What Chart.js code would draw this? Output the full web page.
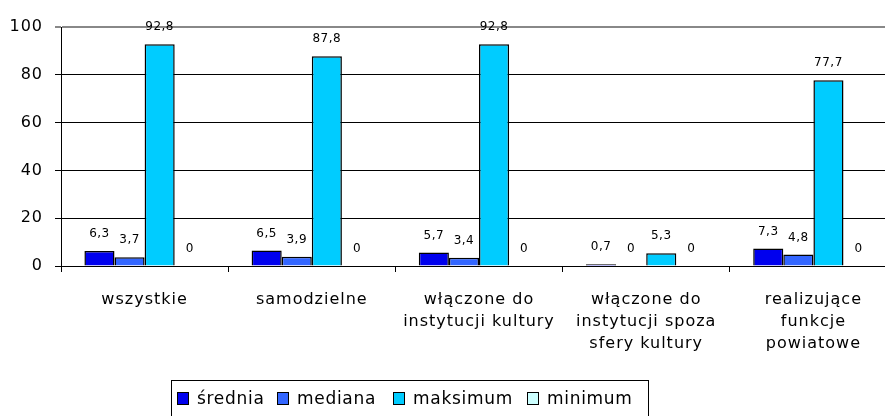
<!DOCTYPE html>
<html lang="pl">
<head>
<meta charset="utf-8">
<script src="https://cdn.jsdelivr.net/npm/chart.js@4/dist/chart.umd.min.js"></script>
<style>
    html, body { margin: 0; padding: 0; background: #fff; overflow: hidden; }
    #wrap { position: relative; width: 885px; height: 416px; overflow: hidden; }
    #legenda {
        position: absolute; left: 171px; top: 380px; width: 478px; height: 44px;
        border: 1px solid #000; box-sizing: border-box;
        font: 17px "DejaVu Sans", sans-serif; letter-spacing: 0.7px; color: #000;
        white-space: nowrap;
    }
    #legenda .box {
        position: absolute; top: 11px; width: 10px; height: 11px; border: 1px solid #000;
    }
    #legenda .txt { position: absolute; top: 7px; line-height: 20px; }
</style>
</head>
<body>
<div id="wrap">
    <canvas id="wykres" width="897" height="416"></canvas>
    <div id="legenda"></div>
</div>
<script>
// ── Dane ───────────────────────────────────────────────────
const kategorie = [
    'wszystkie',
    'samodzielne',
    ['włączone do', 'instytucji kultury'],
    ['włączone do', 'instytucji spoza', 'sfery kultury'],
    ['realizujące', 'funkcje', 'powiatowe'],
];
const srednia   = [6.3, 6.5, 5.7, 0.7, 7.3];
const mediana   = [3.7, 3.9, 3.4, 0, 4.8];
const maksimum  = [92.8, 87.8, 92.8, 5.3, 77.7];
const minimum   = [0, 0, 0, 0, 0];
const yTicks    = [0, 20, 40, 60, 80, 100];

const serie = [
    { label: 'średnia',  data: srednia,  color: '#0000EE' },
    { label: 'mediana',  data: mediana,  color: '#3366FF' },
    { label: 'maksimum', data: maksimum, color: '#00CCFF' },
    { label: 'minimum',  data: minimum,  color: '#CCFFFF' },
];

// lewa krawędź kwadracika każdej pozycji legendy (px od ramki)
const legendaX = [5, 105, 221, 355];

const FONT = '"DejaVu Sans", sans-serif';
const fmt  = v => String(v).replace('.', ',');

// ── Rozstrzelenie liter jak w oryginale ────────────────────
const odstep = {
    id: 'odstep',
    beforeDraw(chart) { chart.ctx.letterSpacing = '1px'; },
};

// ── Etykiety wartości nad słupkami ─────────────────────────
const etykiety = {
    id: 'etykiety',
    afterDatasetsDraw(chart) {
        const ctx = chart.ctx;
        ctx.save();
        ctx.letterSpacing = '0.5px';
        ctx.font = `12px ${FONT}`;
        ctx.fillStyle = '#000';
        ctx.textAlign = 'center';
        ctx.textBaseline = 'middle';
        chart.data.datasets.forEach((ds, i) => {
            chart.getDatasetMeta(i).data.forEach((bar, j) => {
                ctx.fillText(fmt(ds.data[j]), bar.x, bar.y - 17);
            });
        });
        ctx.restore();
    },
};

new Chart(document.getElementById('wykres').getContext('2d'), {
    type: 'bar',
    data: {
        labels: kategorie,
        datasets: serie.map(s => ({
            label: s.label,
            data: s.data,
            backgroundColor: s.color,
            borderColor: '#000',
            borderWidth: 1.5,
            borderSkipped: 'bottom',
            categoryPercentage: 0.72,
            barPercentage: 1,
        })),
    },
    options: {
        responsive: false,
        animation: false,
        layout: { padding: { top: 27, left: 0, right: 0, bottom: 0 } },
        plugins: {
            legend: { display: false },
            tooltip: { enabled: false },
        },
        scales: {
            x: {
                grid: {
                    offset: true, drawOnChartArea: false, drawTicks: true,
                    tickLength: 6, color: '#000',
                },
                border: { color: '#000', width: 1 },
                ticks: {
                    color: '#000', font: { family: FONT, size: 16, lineHeight: 1.38 },
                    maxRotation: 0, autoSkip: false, padding: 17,
                },
                afterFit: s => { s.height = 150; },
            },
            y: {
                min: 0, max: 100,
                afterBuildTicks: s => { s.ticks = yTicks.map(v => ({ value: v })); },
                grid: {
                    color: c => c.tick && c.tick.value === 100 ? '#888' : '#000',
                    lineWidth: c => c.tick && c.tick.value === 100 ? 2 : 1,
                    tickLength: 6,
                },
                border: { color: '#000', width: 1 },
                ticks: { color: '#000', font: { family: FONT, size: 16 }, padding: 12 },
                afterFit: s => { s.width = 61; },
            },
        },
    },
    plugins: [odstep, etykiety],
});

// ── Legenda ────────────────────────────────────────────────
document.getElementById('legenda').innerHTML = serie
    .map((s, i) =>
        `<span class="box" style="left:${legendaX[i]}px;background:${s.color}"></span>` +
        `<span class="txt" style="left:${legendaX[i] + 20}px">${s.label}</span>`)
    .join('');
</script>
</body>
</html>
